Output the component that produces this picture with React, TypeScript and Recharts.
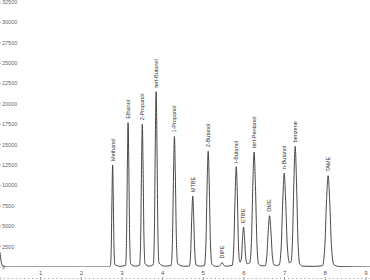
import { ComposedChart, Line, XAxis, YAxis, ReferenceDot } from 'recharts';

// peak apexes (retention time in min, signal)
const peakNames = [
  'Methanol', 'Ethanol', '2-Propanol', 'tert-Butanol', '1-Propanol', 'MTBE', '2-Butanol',
  'DIPE', 'i-Butanol', 'ETBE', 'tert-Pentanol', 'DME', 'n-Butanol', 'benzene', 'TAME',
];
const peakTimes = [2.77, 3.15, 3.5, 3.84, 4.29, 4.74, 5.12, 5.46, 5.81, 5.99, 6.25, 6.63, 6.99, 7.26, 8.07];
const peakHeights = [12500, 17700, 17500, 21500, 16000, 8700, 14200, 550, 12300, 4900, 14100, 6300, 11500, 14800, 11200];

// detector trace: [time, signal]
const trace: [number, number][] = [
  [0, 1800], [0.02, 900], [0.05, 250], [0.09, 30], [0.2, 0], [2.68, 0],
  [2.715, 150], [2.737, 2600], [2.755, 8900], [2.77, 12500], [2.785, 8900], [2.803, 2700], [2.825, 300],
  [2.95, 80],
  [3.088, 200], [3.113, 3700], [3.133, 12600], [3.15, 17700], [3.168, 12600], [3.188, 3900], [3.213, 400],
  [3.33, 100],
  [3.433, 230], [3.46, 3700], [3.481, 12400], [3.5, 17500], [3.519, 12400], [3.54, 3800], [3.568, 400],
  [3.67, 100],
  [3.77, 280], [3.798, 4500], [3.82, 15300], [3.84, 21500], [3.86, 15300], [3.882, 4700], [3.91, 500],
  [4.05, 100],
  [4.21, 210], [4.242, 3400], [4.268, 11400], [4.29, 16000], [4.312, 11400], [4.338, 3500], [4.37, 400],
  [4.52, 100],
  [4.658, 110], [4.69, 1850], [4.717, 6200], [4.74, 8700], [4.763, 6200], [4.79, 1900], [4.822, 250],
  [4.93, 100],
  [5.028, 190], [5.065, 3000], [5.094, 10100], [5.12, 14200], [5.146, 10100], [5.175, 3100], [5.212, 350],
  [5.3, 80],
  [5.38, 100], [5.43, 330], [5.46, 550], [5.49, 330], [5.54, 100],
  [5.71, 200], [5.75, 2600], [5.782, 8700], [5.81, 12300], [5.838, 8700], [5.86, 3500], [5.885, 900],
  [5.905, 600],
  [5.94, 1200], [5.965, 3500], [5.99, 4900], [6.015, 3500], [6.04, 1300], [6.08, 400],
  [6.14, 500], [6.183, 3000], [6.218, 10000], [6.25, 14100], [6.282, 10000], [6.318, 3100], [6.36, 350],
  [6.44, 150],
  [6.52, 150], [6.563, 1350], [6.598, 4500], [6.63, 6300], [6.662, 4500], [6.698, 1400], [6.74, 250],
  [6.8, 200],
  [6.865, 250], [6.915, 2400], [6.955, 8200], [6.99, 11500], [7.025, 8200], [7.065, 2700], [7.12, 500],
  [7.16, 700], [7.193, 3200], [7.228, 10500], [7.26, 14800], [7.292, 10500], [7.328, 3300], [7.37, 400],
  [7.45, 100], [7.7, 80],
  [7.93, 150], [7.988, 2400], [8.03, 8000], [8.07, 11200], [8.11, 8000], [8.153, 2500], [8.21, 300],
  [8.35, 50], [9.1, 0],
];

const yTicks = [0, 2500, 5000, 7500, 10000, 12500, 15000, 17500, 20000, 22500, 25000, 27500, 30000, 32500];

const FONT = '"Liberation Sans", Arial, sans-serif';

const XTick = (props: any) => {
  const { x, payload } = props;
  const v = payload.value;
  const major = Math.abs(v - Math.round(v)) < 1e-6;
  return (
    <g>
      <line x1={x} x2={x} y1={major ? 277 : 278} y2={major ? 280 : 279} stroke="#777" strokeWidth={0.8} />
      {major && v > 0 && (
        <text x={x} y={275} textAnchor="middle" fontSize={6} fill="#555" fontFamily={FONT}>
          {v}
        </text>
      )}
    </g>
  );
};

const YTick = (props: any) => {
  const { y, payload } = props;
  return (
    <g>
      <line x1={0} x2={1} y1={y} y2={y} stroke="#999" strokeWidth={0.8} />
      <text x={2} y={y} dy="0.35em" textAnchor="start" fontSize={5.5} fill="#666" fontFamily={FONT}>
        {payload.value}
      </text>
    </g>
  );
};

const PeakLabel = (name: string) => (props: any) => {
  const { cx, cy } = props;
  const px = cx;
  const py = cy - 4;
  return (
    <text
      x={px}
      y={py}
      dy="0.35em"
      transform={`rotate(-90 ${px} ${py})`}
      fontSize={5.5}
      fill="#333"
      fontFamily={FONT}
    >
      {name}
    </text>
  );
};

export default function App() {
  const data = trace.map(([t, v]) => ({ t, v }));
  // minor ticks every 0.1 min
  const xTicks = Array.from({ length: 92 }, (_, i) => Math.round(i * 10) / 100);

  return (
    <div style={{ position: 'absolute', left: 0, top: 0, width: 370, height: 280, background: '#fff' }}>
      <ComposedChart width={370} height={280} data={data} margin={{ top: 2, right: 0, bottom: 0, left: 0 }}>
        <XAxis
          dataKey="t"
          type="number"
          domain={[0, 9.1]}
          ticks={xTicks}
          interval={0}
          height={13}
          axisLine={false}
          tickLine={false}
          tick={<XTick />}
        />
        <YAxis
          type="number"
          domain={[0, 32500]}
          ticks={yTicks}
          interval={0}
          width={1}
          mirror
          axisLine={false}
          tickLine={false}
          tick={<YTick />}
          allowDataOverflow
        />
        <Line
          type="monotone"
          dataKey="v"
          stroke="#333"
          strokeWidth={0.9}
          dot={false}
          isAnimationActive={false}
        />
        {peakNames.map((name, i) => (
          <ReferenceDot
            key={name}
            x={peakTimes[i]}
            y={peakHeights[i]}
            r={0}
            ifOverflow="visible"
            shape={PeakLabel(name)}
          />
        ))}
      </ComposedChart>
    </div>
  );
}
